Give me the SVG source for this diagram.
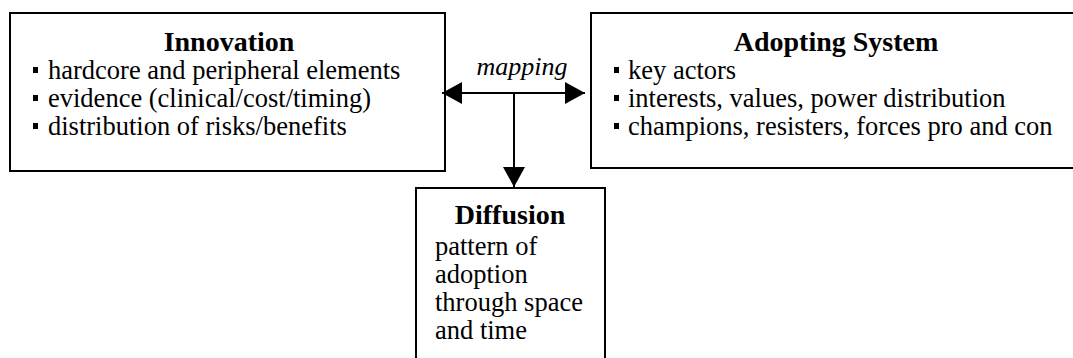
<svg xmlns="http://www.w3.org/2000/svg" width="1073" height="358" viewBox="0 0 1073 358">
<style>
.box{fill:#fff;stroke:#000;stroke-width:2}
text{font-family:"Liberation Serif","Times New Roman",Times,"DejaVu Serif",serif;fill:#000}
.t{font-size:28px;font-weight:700;text-anchor:middle}
.b{font-size:26.5px;font-weight:400}
.m{font-size:26px;font-style:italic;font-weight:400;text-anchor:middle}
.blt{fill:#000}
.ln{stroke:#000;stroke-width:2;fill:none}
</style>
<defs>
<marker id="ah" markerWidth="20" markerHeight="22" refX="20" refY="11" orient="auto" markerUnits="userSpaceOnUse">
<path d="M0,0 L20,11 L0,22 Z" fill="#000"/>
</marker>
</defs>
<g id="innovation">
<rect class="box" x="10" y="13" width="435" height="158"/>
<text class="t" x="229" y="51">Innovation</text>
<rect class="blt" x="33" y="67" width="5" height="6"/>
<text class="b" x="48" y="79">hardcore and peripheral elements</text>
<rect class="blt" x="33" y="95" width="5" height="6"/>
<text class="b" x="48" y="107">evidence (clinical/cost/timing)</text>
<rect class="blt" x="33" y="123" width="5" height="6"/>
<text class="b" x="48" y="135">distribution of risks/benefits</text>
</g>
<g id="adopting">
<rect class="box" x="591" y="13" width="490" height="155"/>
<text class="t" x="836" y="51">Adopting System</text>
<rect class="blt" x="614" y="67" width="5" height="6"/>
<text class="b" x="628" y="79">key actors</text>
<rect class="blt" x="614" y="95" width="5" height="6"/>
<text class="b" x="628" y="107">interests, values, power distribution</text>
<rect class="blt" x="614" y="123" width="5" height="6"/>
<text class="b" x="628" y="135">champions, resisters, forces pro and con</text>
</g>
<g id="diffusion">
<rect class="box" x="416" y="188" width="189" height="190"/>
<text class="t" x="510" y="224">Diffusion</text>
<text class="b" x="435" y="255">pattern of</text>
<text class="b" x="435" y="283">adoption</text>
<text class="b" x="435" y="311">through space</text>
<text class="b" x="435" y="339">and time</text>
</g>
<g id="connectors">
<line class="ln" x1="514" y1="93" x2="585" y2="93" marker-end="url(#ah)"/>
<line class="ln" x1="514" y1="93" x2="442" y2="93" marker-end="url(#ah)"/>
<line class="ln" x1="514" y1="93" x2="514" y2="187" marker-end="url(#ah)"/>
<text class="m" x="522" y="75">mapping</text>
</g>
</svg>
